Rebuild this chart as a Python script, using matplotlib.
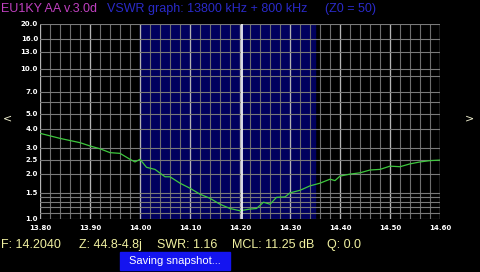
import numpy as np
import matplotlib
matplotlib.use("Agg")
import matplotlib.pyplot as plt
from matplotlib.patches import Rectangle

# Данные: частота (МГц) и КСВ
freq = [13.80, 13.84, 13.88, 13.90, 13.92, 13.94, 13.96, 13.98, 13.99, 14.00,
        14.013, 14.03, 14.05, 14.06, 14.08, 14.10, 14.12, 14.14, 14.16, 14.18,
        14.20, 14.22, 14.233, 14.247, 14.26, 14.273, 14.29, 14.30, 14.32, 14.34,
        14.36, 14.38, 14.39, 14.40, 14.42, 14.44, 14.46, 14.48, 14.50, 14.52,
        14.54, 14.56, 14.58, 14.60]
swr = [3.74, 3.46, 3.24, 3.08, 2.95, 2.78, 2.75, 2.51, 2.41, 2.51,
       2.22, 2.15, 1.92, 1.92, 1.74, 1.61, 1.47, 1.38, 1.26, 1.18,
       1.14, 1.17, 1.18, 1.30, 1.26, 1.40, 1.41, 1.50, 1.56, 1.67,
       1.74, 1.85, 1.81, 1.94, 2.00, 2.04, 2.13, 2.15, 2.26, 2.24,
       2.34, 2.41, 2.46, 2.48]

y_labeled = [1.0, 1.5, 2.0, 2.5, 3.0, 4.0, 5.0, 7.0, 10.0, 13.0, 16.0, 20.0]
y_grid_extra = [1.1, 1.2, 1.3, 1.4, 6.0, 9.0]
x_major = [13.80, 13.90, 14.00, 14.10, 14.20, 14.30, 14.40, 14.50, 14.60]

band = (14.00, 14.35)
cursor_f = 14.204

title_left = "EU1KY AA v.3.0d"
title_right = "VSWR graph: 13800 kHz + 800 kHz"
title_z0 = "(Z0 = 50)"
status = [("F: 14.2040", 1), ("Z: 44.8-4.8j", 79), ("SWR: 1.16", 157),
          ("MCL: 11.25 dB", 232), ("Q: 0.0", 327)]

W, H = 480, 272
fig = plt.figure(figsize=(W / 100, H / 100), dpi=100, facecolor="black")
ax = fig.add_axes([40 / W, (H - 219.3) / H, 400 / W, 195.3 / H])
ax.set_facecolor("black")
ax.set_yscale("log")
ax.set_xlim(13.80, 14.60)
ax.set_ylim(1.0, 20.0)

# Полоса диапазона
ax.axvspan(band[0], band[1], color="#00005e", zorder=0)

# Сетка
minor_x = np.round(np.arange(13.80, 14.6001, 0.02), 2)
for fx in minor_x:
    ax.axvline(fx, color="#6e6e6e", lw=0.8, zorder=1)
for fx in x_major:
    ax.axvline(fx, color="#b4b4b4", lw=0.9, zorder=1)
for v in y_labeled + y_grid_extra:
    ax.axhline(v, color="#7a7a7a", lw=0.8, zorder=1)

ax.plot(freq, swr, color="#3ec83e", lw=0.9, zorder=3)
ax.axvline(cursor_f, color="white", lw=1.2, zorder=4)

for s in ax.spines.values():
    s.set_visible(False)
ax.set_xticks([])
ax.set_yticks([])
ax.minorticks_off()

tick_font = dict(color="white", fontsize=5, fontweight="bold", family="DejaVu Sans")
for v in y_labeled:
    ax.text(-0.005, v, f"{v:.1f}", transform=ax.get_yaxis_transform(),
            ha="right", va="center", **tick_font)
for fx in x_major:
    ax.text(fx, -0.03, f"{fx:.2f}", transform=ax.get_xaxis_transform(),
            ha="center", va="top", **tick_font)

# Тексты в пикселях
def px(x, y):
    return x / W, 1 - y / H

big = dict(fontsize=9, family="Liberation Sans", va="center", ha="left")
fig.text(*px(1, 9), title_left, color="#c040c0", **big)
fig.text(*px(107, 9), title_right, color="#2a2ac8", **big)
fig.text(*px(325, 9), title_z0, color="#2a2ac8", **big)

for txt, x0 in status:
    fig.text(*px(x0, 245), txt, color="#f0f0a0", **big)

fig.patches.append(Rectangle(px(120, 269.5), 110 / W, 17.5 / H,
                             transform=fig.transFigure, color="#1414f0"))
fig.text(*px(175, 261), "Saving snapshot...", color="white", fontsize=8,
         family="Liberation Sans", ha="center", va="center")

fig.text(*px(7, 118), "<", color="#f0f0d0", fontsize=8, ha="center", va="center")
fig.text(*px(469, 118), ">", color="#f0f0d0", fontsize=8, ha="center", va="center")

fig.savefig("out.png", dpi=100, facecolor="black")
